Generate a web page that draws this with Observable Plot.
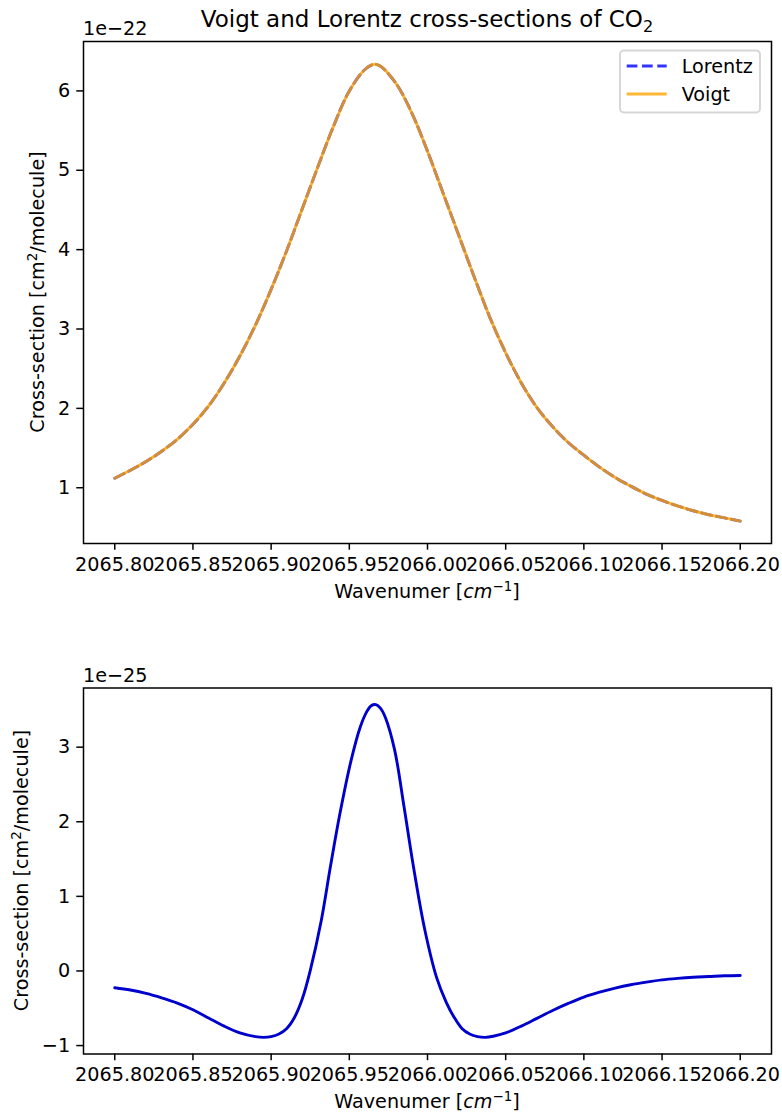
<!DOCTYPE html>
<html>
<head>
<meta charset="utf-8">
<script src="https://cdn.jsdelivr.net/npm/d3@7"></script>
<script src="https://cdn.jsdelivr.net/npm/@observablehq/plot@0.6"></script>
<style>
  body { margin: 0; background: #fff; }
  #wrap { position: relative; width: 782px; height: 1118px; font-family: "DejaVu Sans"; background: #fff; }
  #wrap svg { position: absolute; left: 0; }
</style>
</head>
<body>
<div id="wrap"></div>
<script>
// ---------- data ----------
const xTicks = [2065.80, 2065.85, 2065.90, 2065.95, 2066.00, 2066.05, 2066.10, 2066.15, 2066.20];
const topYTicks = [1, 2, 3, 4, 5, 6];
const bottomYTicks = [-1, 0, 1, 2, 3];

// top panel (units of 1e-22 cm^2/molecule)
const topWavenumber = [2065.80, 2065.81, 2065.82, 2065.83, 2065.84, 2065.85, 2065.86, 2065.87, 2065.88,
  2065.89, 2065.90, 2065.91, 2065.92, 2065.93, 2065.94, 2065.95, 2065.96, 2065.966,
  2065.97, 2065.98, 2065.99, 2066.00, 2066.01, 2066.02, 2066.03, 2066.04, 2066.05, 2066.06,
  2066.07, 2066.08, 2066.09, 2066.10, 2066.11, 2066.12, 2066.13, 2066.14, 2066.15, 2066.16,
  2066.17, 2066.18, 2066.19, 2066.20];
const lorentzValues = [1.12, 1.22, 1.33, 1.46, 1.61, 1.80, 2.03, 2.32, 2.66,
  3.05, 3.50, 3.99, 4.52, 5.05, 5.56, 6.00, 6.27, 6.335,
  6.31, 6.09, 5.72, 5.24, 4.71, 4.18, 3.65, 3.14, 2.70, 2.32,
  2.01, 1.77, 1.57, 1.41, 1.26, 1.13, 1.02, 0.92, 0.84, 0.77,
  0.71, 0.66, 0.62, 0.58];
const voigtValues = [1.12, 1.22, 1.33, 1.46, 1.61, 1.80, 2.03, 2.32, 2.66,
  3.05, 3.50, 3.99, 4.52, 5.05, 5.56, 6.00, 6.27, 6.335,
  6.31, 6.09, 5.72, 5.24, 4.71, 4.18, 3.65, 3.14, 2.70, 2.32,
  2.01, 1.77, 1.57, 1.41, 1.26, 1.13, 1.02, 0.92, 0.84, 0.77,
  0.71, 0.66, 0.62, 0.58];

// bottom panel (units of 1e-25 cm^2/molecule)
const bottomWavenumber = [2065.80, 2065.81, 2065.82, 2065.83, 2065.84, 2065.85, 2065.86, 2065.87, 2065.88,
  2065.89, 2065.895, 2065.90, 2065.905, 2065.91, 2065.915, 2065.92, 2065.925, 2065.932, 2065.938, 2065.944,
  2065.951, 2065.957, 2065.961, 2065.964, 2065.967, 2065.970, 2065.973, 2065.979, 2065.985, 2065.991,
  2065.998, 2066.006, 2066.012, 2066.017, 2066.022, 2066.027, 2066.032, 2066.037, 2066.042, 2066.05,
  2066.06, 2066.07, 2066.08, 2066.09, 2066.10, 2066.11, 2066.12, 2066.13, 2066.14, 2066.15,
  2066.16, 2066.17, 2066.18, 2066.19, 2066.20];
const differenceValues = [-0.225, -0.255, -0.30, -0.36, -0.43, -0.52, -0.63, -0.74, -0.83,
  -0.88, -0.89, -0.88, -0.845, -0.77, -0.62, -0.37, 0.005, 0.67, 1.41, 2.11,
  2.81, 3.27, 3.47, 3.555, 3.57, 3.52, 3.40, 2.96, 2.20, 1.40,
  0.58, -0.10, -0.42, -0.62, -0.77, -0.845, -0.88, -0.89, -0.875, -0.83,
  -0.74, -0.635, -0.53, -0.435, -0.35, -0.285, -0.23, -0.185, -0.15, -0.12,
  -0.10, -0.085, -0.075, -0.065, -0.06];

// ---------- tables ----------
const lorentzData = topWavenumber.map((x, i) => ({x, y: lorentzValues[i]}));
const voigtData = topWavenumber.map((x, i) => ({x, y: voigtValues[i]}));
const diffData = bottomWavenumber.map((x, i) => ({x, y: differenceValues[i]}));

const FS = 19.2;
const fmtY = d => (d < 0 ? "\u2212" + Math.abs(d) : String(d));
const baseStyle = {fontFamily: "DejaVu Sans", fontSize: FS + "px", color: "black", background: "white", overflow: "visible"};
const xDomain = [2065.78, 2066.22];

function axes(yTicks) {
  return [
    Plot.axisX({ticks: xTicks, tickFormat: d3.format(".2f"), tickSize: 6.7, tickPadding: 6.7, label: null, strokeWidth: 1.5}),
    Plot.axisY({ticks: yTicks, tickFormat: fmtY, tickSize: 6.7, tickPadding: 6.7, label: null, strokeWidth: 1.5}),
    Plot.frame({stroke: "black", strokeWidth: 1.5})
  ];
}

// ---------- top chart ----------
const topChart = Plot.plot({
  width: 782, height: 610,
  marginLeft: 83, marginRight: 11, marginTop: 41, marginBottom: 67,
  x: {domain: xDomain},
  y: {domain: [0.2975, 6.6225]},
  style: baseStyle,
  marks: [
    Plot.line(lorentzData, {x: "x", y: "y", stroke: "#0000ff", strokeOpacity: 0.8, strokeWidth: 2.9, strokeDasharray: "10.7,4.6", curve: "catmull-rom"}),
    Plot.line(voigtData, {x: "x", y: "y", stroke: "#ffa500", strokeOpacity: 0.8, strokeWidth: 2.9, curve: "catmull-rom"}),
    ...axes(topYTicks)
  ]
});
topChart.style.top = "0px";

// ---------- bottom chart ----------
const bottomChart = Plot.plot({
  width: 782, height: 508,
  marginLeft: 83, marginRight: 11, marginTop: 77.5, marginBottom: 64.5,
  x: {domain: xDomain},
  y: {domain: [-1.113, 3.793]},
  style: baseStyle,
  marks: [
    Plot.line(diffData, {x: "x", y: "y", stroke: "#0000cd", strokeWidth: 2.9, curve: "catmull-rom"}),
    ...axes(bottomYTicks)
  ]
});
bottomChart.style.top = "610px";

const wrap = document.getElementById("wrap");
wrap.appendChild(topChart);
wrap.appendChild(bottomChart);

// ---------- text decorations ----------
function addText(svg) {
  return d3.select(svg).append("text")
    .attr("font-family", "DejaVu Sans").attr("font-size", FS).attr("fill", "black");
}
function xLabel(svg, y) {
  const t = addText(svg).attr("x", 427).attr("y", y).attr("text-anchor", "middle");
  t.append("tspan").text("Wavenumer [");
  t.append("tspan").attr("font-style", "italic").text("cm");
  t.append("tspan").attr("font-size", FS * 0.7).attr("dy", -7.5).text("\u22121");
  t.append("tspan").attr("dy", 7.5).text("]");
}
function yLabel(svg, x, y) {
  const t = addText(svg).attr("transform", `translate(${x},${y}) rotate(-90)`).attr("text-anchor", "middle");
  t.append("tspan").text("Cross-section [cm");
  t.append("tspan").attr("font-size", FS * 0.7).attr("dy", -7.5).text("2");
  t.append("tspan").attr("dy", 7.5).text("/molecule]");
}
function offsetText(svg, y, s) {
  addText(svg).attr("x", 83).attr("y", y).attr("text-anchor", "start").text(s);
}

// title
{
  const t = addText(topChart).attr("x", 427).attr("y", 27).attr("text-anchor", "middle").attr("font-size", 23);
  t.append("tspan").text("Voigt and Lorentz cross-sections of CO");
  t.append("tspan").attr("font-size", 16.1).attr("dy", 4.5).text("2");
}
offsetText(topChart, 35, "1e\u221222");
xLabel(topChart, 598);
yLabel(topChart, 44, 292);

offsetText(bottomChart, 71.5, "1e\u221225");
xLabel(bottomChart, 498);
yLabel(bottomChart, 28, 260.5);

// legend
{
  const g = d3.select(topChart).append("g");
  g.append("rect").attr("x", 620).attr("y", 50.5).attr("width", 140).attr("height", 62).attr("rx", 4)
    .attr("fill", "white").attr("fill-opacity", 0.8).attr("stroke", "#cccccc").attr("stroke-opacity", 0.8).attr("stroke-width", 1.9);
  g.append("line").attr("x1", 626.7).attr("x2", 666.7).attr("y1", 66).attr("y2", 66)
    .attr("stroke", "#0000ff").attr("stroke-opacity", 0.8).attr("stroke-width", 2.9).attr("stroke-dasharray", "10.7,4.6");
  addText(topChart).attr("x", 681.7).attr("y", 73).attr("text-anchor", "start").text("Lorentz");
  g.append("line").attr("x1", 626.7).attr("x2", 666.7).attr("y1", 94).attr("y2", 94)
    .attr("stroke", "#ffa500").attr("stroke-opacity", 0.8).attr("stroke-width", 2.9);
  addText(topChart).attr("x", 681.7).attr("y", 101).attr("text-anchor", "start").text("Voigt");
}
</script>
</body>
</html>
